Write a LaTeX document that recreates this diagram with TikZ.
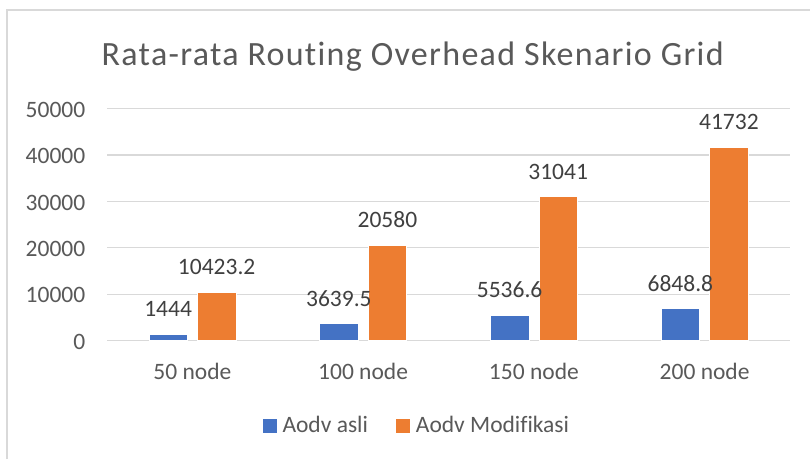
\documentclass[tikz,border=0pt]{standalone}
\usepackage{fontspec}
\setmainfont{Carlito}[Ligatures=NoCommon]
\newfontfamily\titlefont{Carlito}[Ligatures=NoCommon, LetterSpace=3.8]
\definecolor{axisgray}{HTML}{595959}
\definecolor{labelgray}{HTML}{404040}
\definecolor{gridgray}{HTML}{D9D9D9}
\definecolor{framegray}{HTML}{D9D9D9}
\definecolor{barblue}{HTML}{4472C4}
\definecolor{barorange}{HTML}{ED7D31}
\tikzset{
  axistext/.style={text=axisgray, font=\fontsize{23.5}{28}\selectfont, inner sep=0pt},
  valtext/.style={text=labelgray, font=\fontsize{23.5}{28}\selectfont, inner sep=0pt, anchor=base},
  gridline/.style={draw=gridgray, line width=1.3pt},
  bluebar/.style={fill=barblue},
  orangebar/.style={fill=barorange},
}
\begin{document}
\begin{tikzpicture}[x=1pt,y=-1pt]
\useasboundingbox (0,0) rectangle (810,459);
\fill[white] (0,0) rectangle (810,459);
% chart frame (only left and top edges are inside the page)
\draw[framegray, line width=1.2pt] (7,459) -- (7,10) -- (810,10);

% title
\node[axistext, anchor=base, font=\titlefont\fontsize{34}{40}\selectfont] (title) at (412.7,65)
  {Rata-rata Routing Overhead Skenario Grid};

% value axis: gridlines and tick labels
\foreach \k/\tick in {0/0, 1/10000, 2/20000, 3/30000, 4/40000, 5/50000} {
  \pgfmathsetmacro{\gy}{340.5-46.36*\k}
  \draw[gridline] (107,\gy) -- (790,\gy);
  \node[axistext, anchor=base east] (ylab\k) at (85.5,\gy+8.6) {\tick};
}

% bars (heights in units of 1000), data labels and category labels
\foreach \i/\b/\o/\bt/\ot in {0/1.444/10.4232/1444/10423.2, 1/3.6395/20.580/3639.5/20580,
                              2/5.5366/31.041/5536.6/31041, 3/6.8488/41.732/6848.8/41732} {
  \pgfmathsetmacro{\c}{107+170.75*(\i+0.5)}
  \pgfmathsetmacro{\hb}{340.5-\b*4.636}
  \pgfmathsetmacro{\ho}{340.5-\o*4.636}
  \fill[bluebar] (\c-43.5,340.5) rectangle (\c-5,\hb);
  \fill[orangebar] (\c+5,340.5) rectangle (\c+43.5,\ho);
  \draw[white, line width=0.6pt] (\c-43.5,340.5) rectangle (\c-5,\hb);
  \draw[white, line width=0.6pt] (\c+5,340.5) rectangle (\c+43.5,\ho);
  \node[valtext] (bl\i) at (\c-24.25,\hb-17.5) {\bt};
  \node[valtext] (ol\i) at (\c+24.25,\ho-17.5) {\ot};
}
\node[axistext, anchor=base] (cat0) at (192.4,379.3) {50 node};
\node[axistext, anchor=base] (cat1) at (363.1,379.3) {100 node};
\node[axistext, anchor=base] (cat2) at (533.9,379.3) {150 node};
\node[axistext, anchor=base] (cat3) at (704.6,379.3) {200 node};

% legend
\fill[barblue] (263.3,419.3) rectangle (276.7,433.3);
\node[axistext, anchor=base west] (legblue) at (282.3,432.7) {Aodv asli};
\fill[barorange] (396,419.3) rectangle (410,433.3);
\node[axistext, anchor=base west] (legorange) at (415.7,432.7) {Aodv Modifikasi};
\end{tikzpicture}
\end{document}
